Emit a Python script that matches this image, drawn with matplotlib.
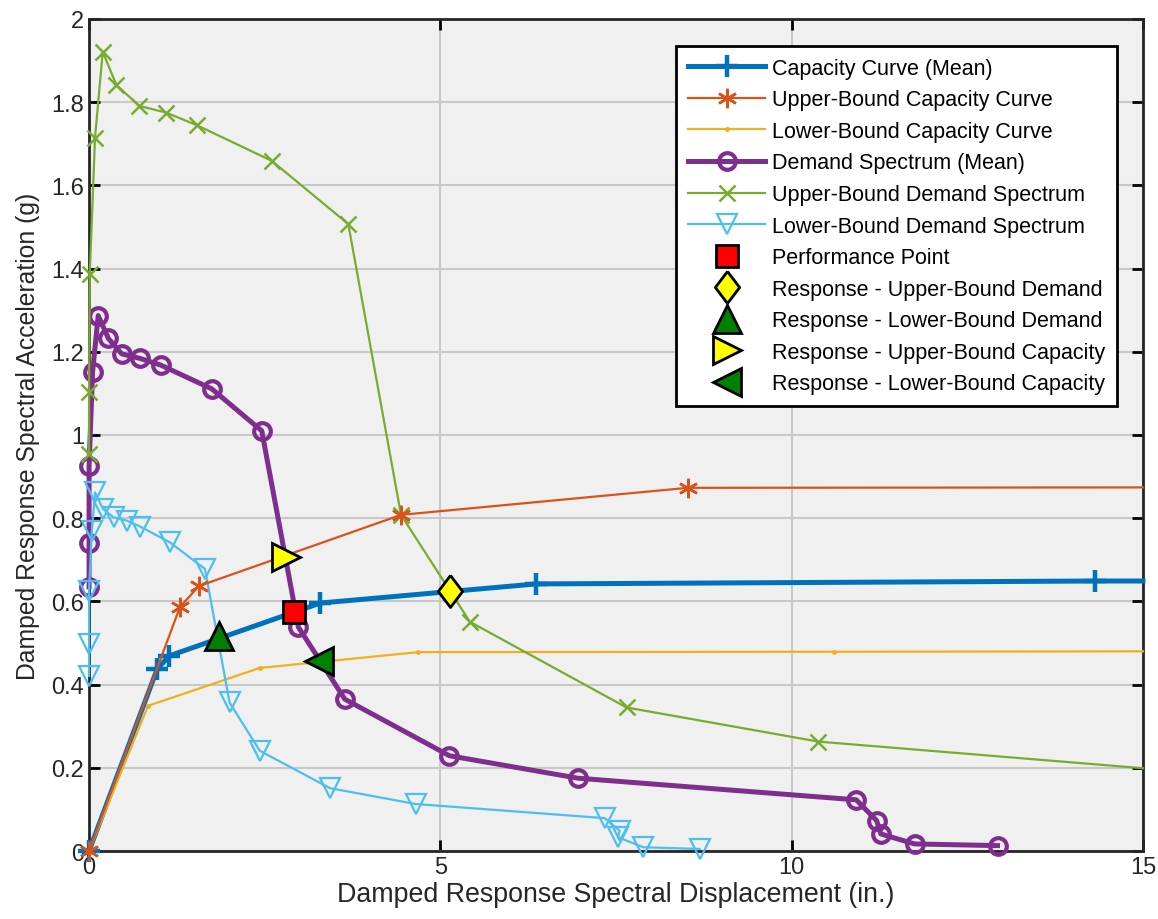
import matplotlib
matplotlib.use("Agg")
import matplotlib.pyplot as plt

plt.rcParams['font.family'] = ['Liberation Sans', 'DejaVu Sans']

# Capacity curves (last point = value at the right axis edge, no marker)
cap_mean_x = [0, 0.97, 1.14, 3.29, 6.36, 14.32, 15.0]
cap_mean_y = [0, 0.4375, 0.469, 0.596, 0.642, 0.649, 0.649]
cap_ub_x = [0, 1.295, 1.565, 4.44, 8.52, 15.0]
cap_ub_y = [0, 0.587, 0.637, 0.808, 0.873, 0.874]
cap_lb_x = [0, 0.84, 2.43, 4.68, 10.6, 15.0]
cap_lb_y = [0, 0.349, 0.440, 0.478, 0.479, 0.480]

# Demand spectra
dem_mean_x = [0.0, 0.0, 0.0, 0.05, 0.13, 0.275, 0.465, 0.726, 1.02, 1.746, 2.458,
              2.98, 3.64, 5.13, 6.96, 10.92, 11.21, 11.27, 11.75, 12.93]
dem_mean_y = [0.635, 0.74, 0.926, 1.151, 1.287, 1.232, 1.195, 1.184, 1.168, 1.111, 1.010,
              0.538, 0.365, 0.229, 0.175, 0.123, 0.073, 0.041, 0.017, 0.013]
dem_ub_x = [0.0, 0.0, 0.01, 0.085, 0.195, 0.39, 0.716, 1.096, 1.53, 2.6, 3.69,
            4.44, 5.42, 7.65, 10.38, 15.0]
dem_ub_y = [0.955, 1.103, 1.387, 1.715, 1.921, 1.841, 1.791, 1.775, 1.745, 1.659, 1.507,
            0.808, 0.551, 0.345, 0.263, 0.199]
dem_lb_x = [0.0, 0.0, 0.0, 0.04, 0.085, 0.2, 0.35, 0.54, 0.726, 1.15, 1.65,
            2.0, 2.43, 3.43, 4.65, 7.34, 7.55, 7.53, 7.89, 8.69]
dem_lb_y = [0.421, 0.498, 0.626, 0.77, 0.862, 0.822, 0.802, 0.794, 0.78, 0.742, 0.678,
            0.357, 0.241, 0.151, 0.113, 0.079, 0.049, 0.033, 0.009, 0.005]

# Response points
perf_pt = (2.92, 0.575)
resp_ub_demand = (5.14, 0.625)
resp_lb_demand = (1.85, 0.517)
resp_ub_cap = (2.80, 0.707)
resp_lb_cap = (3.27, 0.457)

labels = ['Capacity Curve (Mean)', 'Upper-Bound Capacity Curve', 'Lower-Bound Capacity Curve',
          'Demand Spectrum (Mean)', 'Upper-Bound Demand Spectrum', 'Lower-Bound Demand Spectrum',
          'Performance Point', 'Response - Upper-Bound Demand', 'Response - Lower-Bound Demand',
          'Response - Upper-Bound Capacity', 'Response - Lower-Bound Capacity']

x_ticks = [0, 5, 10, 15]
y_ticks = [0, 0.2, 0.4, 0.6, 0.8, 1.0, 1.2, 1.4, 1.6, 1.8, 2.0]
y_ticklabels = ['0', '0.2', '0.4', '0.6', '0.8', '1', '1.2', '1.4', '1.6', '1.8', '2']

c_blue = '#0072BD'
c_orange = '#D95319'
c_yellow = '#EDB120'
c_purple = '#7E2F8E'
c_green = '#77AC30'
c_lblue = '#4DBEEE'

diamond = [(0, 1), (0.76, 0), (0, -1), (-0.76, 0), (0, 1)]


def all_but_last(xs):
    return list(range(len(xs) - 1))


fig = plt.figure(figsize=(11.58, 9.2), dpi=100)
ax = fig.add_axes([0.0769, 0.0739, 0.9101, 0.9044])
ax.set_facecolor('#f0f0f0')

ax.plot(cap_mean_x, cap_mean_y, color=c_blue, lw=3.6, marker='+', ms=16, mew=3.2,
        markevery=all_but_last(cap_mean_x), clip_on=False, label=labels[0], zorder=3)
ax.plot(cap_ub_x, cap_ub_y, color=c_orange, lw=1.6, marker=(6, 2, 0), ms=14, mew=1.8,
        markevery=all_but_last(cap_ub_x), clip_on=False, label=labels[1], zorder=3.1)
ax.plot(cap_lb_x, cap_lb_y, color=c_yellow, lw=1.6, marker='.', ms=5,
        markevery=all_but_last(cap_lb_x), clip_on=False, label=labels[2], zorder=3)
ax.plot(dem_mean_x, dem_mean_y, color=c_purple, lw=3.6, marker='o', ms=12, mew=3.0,
        mfc='none', clip_on=False, label=labels[3], zorder=3)
ax.plot(dem_ub_x, dem_ub_y, color=c_green, lw=1.6, marker='x', ms=12, mew=1.8,
        markevery=all_but_last(dem_ub_x), clip_on=False, label=labels[4], zorder=3)
ax.plot(dem_lb_x, dem_lb_y, color=c_lblue, lw=1.6, marker='v', ms=14, mew=1.6,
        mfc='none', clip_on=False, label=labels[5], zorder=3)

ax.plot(*perf_pt, ls='none', marker='s', ms=16, mfc='#ff0000', mec='black', mew=2,
        label=labels[6], zorder=5)
ax.plot(*resp_ub_demand, ls='none', marker=diamond, ms=23, mfc='#ffff00', mec='black', mew=2,
        label=labels[7], zorder=5)
ax.plot(*resp_lb_demand, ls='none', marker='^', ms=20, mfc='#008000', mec='black', mew=2,
        label=labels[8], zorder=5)
ax.plot(*resp_ub_cap, ls='none', marker='>', ms=20, mfc='#ffff00', mec='black', mew=2,
        label=labels[9], zorder=5)
ax.plot(*resp_lb_cap, ls='none', marker='<', ms=20, mfc='#008000', mec='black', mew=2,
        label=labels[10], zorder=5)

ax.set_xlim(0, 15)
ax.set_ylim(0, 2)
ax.set_xticks(x_ticks)
ax.set_yticks(y_ticks)
ax.set_yticklabels(y_ticklabels)
ax.grid(True, color='#c8c8c8', lw=1.5)
ax.set_axisbelow(True)
ax.tick_params(direction='in', length=8, width=2, labelsize=17, top=True, right=True,
               colors='black', labelcolor='#262626')
for s in ax.spines.values():
    s.set_linewidth(2)
    s.set_color('#262626')

ax.set_xlabel('Damped Response Spectral Displacement (in.)', fontsize=19.3, color='#262626', labelpad=2)
ax.set_ylabel('Damped Response Spectral Acceleration (g)', fontsize=17.8, color='#262626', labelpad=8)

handles, labs = ax.get_legend_handles_labels()
leg = ax.legend(handles, labs, loc='upper right', bbox_to_anchor=(0.9753, 0.9675),
                borderaxespad=0, fontsize=15.5,
                frameon=True, fancybox=False, edgecolor='black', framealpha=1,
                handlelength=3.6, labelspacing=0.49, borderpad=0.55, handletextpad=0.3)
leg.get_frame().set_linewidth(2)
leg.set_zorder(10)

fig.savefig('out.png', dpi=100)
